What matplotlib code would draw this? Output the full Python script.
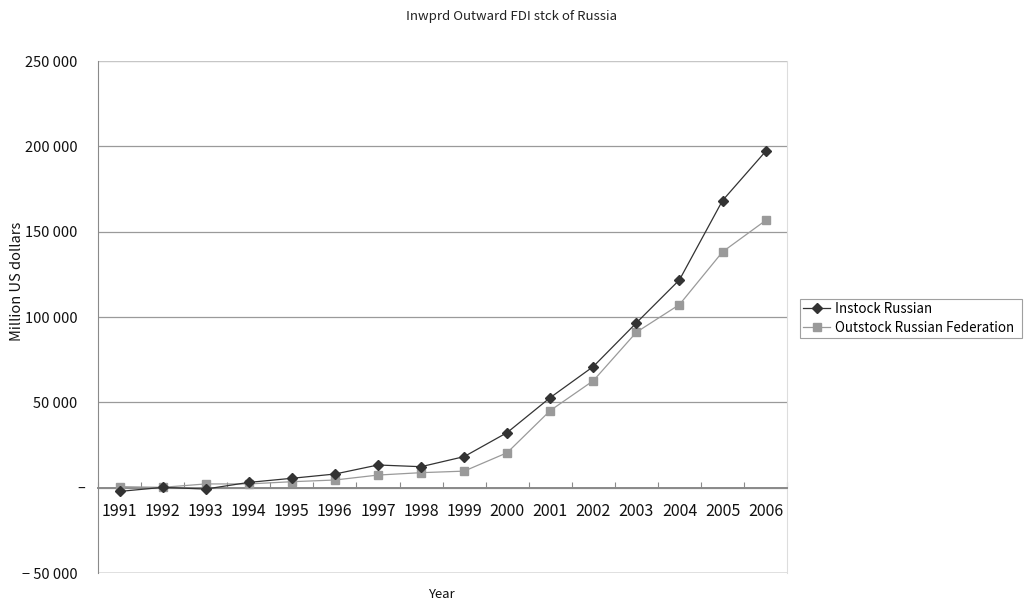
import numpy as np
import matplotlib.pyplot as plt
import matplotlib.transforms as mtransforms
from matplotlib.ticker import FuncFormatter

plt.rcParams['font.family'] = ['Noto Sans CJK JP', 'DejaVu Sans']

# FDI stock, million US dollars
years = [str(y) for y in range(1991, 2007)]
instock = [-2200, 200, -800, 3100, 5500, 8000, 13300, 12300, 18200, 32300,
           52800, 71000, 96600, 121800, 168300, 197100]
outstock = [600, 200, 2200, 2200, 3500, 4500, 7400, 8800, 9700, 20500,
            45200, 62700, 91100, 107300, 138200, 156600]


def fmt_thousands(v, pos):
    if v == 0:
        return '–'
    s = f'{abs(int(v)):,}'.replace(',', ' ')
    return ('− ' + s) if v < 0 else s


fig = plt.figure(figsize=(10.24, 5.99), dpi=100)
ax = fig.add_axes([0.0957, 0.0434, 0.673, 0.8546])

x = np.arange(len(years))
ax.plot(x, instock, color='#333333', lw=0.9, marker='D', ms=5,
        label='Instock Russian', zorder=4)
ax.plot(x, outstock, color='#9a9a9a', lw=0.9, marker='s', ms=5.5,
        label='Outstock Russian Federation', zorder=3)

ax.set_xlim(-0.5, len(years) - 0.5)
ax.set_ylim(-50000, 250000)

# horizontal grid
ax.set_yticks(np.arange(-50000, 250001, 50000))
ax.yaxis.set_major_formatter(FuncFormatter(fmt_thousands))
ax.grid(axis='y', color='#9a9a9a', lw=0.9)
ax.set_axisbelow(True)
ax.tick_params(axis='y', length=0, pad=15, labelsize=10.5, labelcolor='#111111')

# the dash for zero sits a little further right
zero_lbl = ax.yaxis.get_major_ticks()[1].label1
zero_lbl.set_transform(zero_lbl.get_transform() +
                       mtransforms.ScaledTranslation(8 / 100, 0, fig.dpi_scale_trans))

# category axis sits at zero
ax.spines['bottom'].set_position(('data', 0))
ax.spines['bottom'].set_color('#8a8a8a')
ax.spines['bottom'].set_linewidth(1.4)
ax.spines['left'].set_color('#8a8a8a')
ax.spines['right'].set_color('#dddddd')
ax.spines['top'].set_visible(False)
ax.axhline(-50000, color='#dddddd', lw=1.2)
ax.axhline(250000, color='#d0d0d0', lw=1.2)

ax.set_xticks(np.arange(-0.5, len(years), 1))
ax.set_xticklabels([])
ax.tick_params(axis='x', which='major', direction='in', length=4,
               color='#8a8a8a')
ax.set_xticks(x, minor=True)
ax.set_xticklabels(years, minor=True)
ax.tick_params(axis='x', which='minor', length=0, pad=11, labelsize=11.5,
               labelcolor='#111111')

fig.text(0.5, 0.972, 'Inwprd Outward FDI stck of Russia', ha='center',
         va='center', fontsize=9.5, color='#222222')
fig.text(0.017, 0.53, 'Million US dollars', rotation=90, ha='center',
         va='center', fontsize=10.5, color='#111111')
fig.text(0.431, 0.008, 'Year', ha='center', va='center', fontsize=9.5,
         color='#111111')

leg = fig.legend(loc='lower left', mode='expand',
                 bbox_to_anchor=(800 / 1024, 261 / 599, 222 / 1024, 41 / 599),
                 fontsize=9.6, frameon=True, fancybox=False,
                 borderpad=0.25, handlelength=2.0, handletextpad=0.35,
                 labelspacing=0.35, borderaxespad=0)
leg.get_frame().set_edgecolor('#888888')
leg.get_frame().set_linewidth(0.8)

fig.savefig('out.png', dpi=100)
